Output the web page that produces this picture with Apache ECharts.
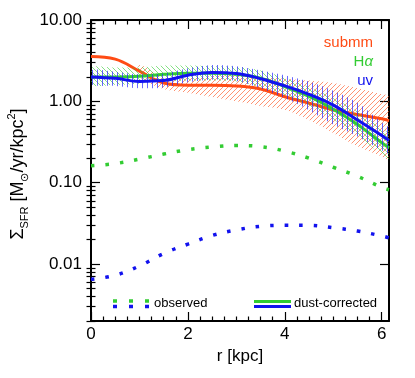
<!DOCTYPE html>
<html>
<head>
<meta charset="utf-8">
<title>SFR surface density profile</title>
<script src="https://cdn.jsdelivr.net/npm/echarts@6/dist/echarts.min.js"></script>
</head>
<body style="margin:0;padding:0;background:#fff;">
<div id="main" style="margin:0;padding:0;width:415px;height:378px;"></div>
<script type="text/javascript">
// radius grid [kpc]
var radius = [0, 0.5, 1, 1.5, 2, 2.5, 3, 3.5, 4, 4.5, 5, 5.5, 6, 6.15];

// dust-corrected profiles
var submm  = [3.55, 3.3, 2.35, 1.68, 1.58, 1.58, 1.55, 1.42, 1.14, 0.95, 0.79, 0.69, 0.61, 0.58];
var halpha = [2.0, 2.0, 2.03, 2.15, 2.22, 2.22, 2.15, 1.92, 1.52, 1.15, 0.8, 0.52, 0.31, 0.27];
var uv     = [2.0, 1.92, 1.76, 1.8, 2.1, 2.27, 2.2, 1.9, 1.55, 1.22, 0.9, 0.59, 0.38, 0.33];

// uncertainty bands (lower / upper)
var submmLo  = [null, null, 2.0, 1.42, 1.28, 1.13, 1.0, 0.88, 0.79, 0.59, 0.41, 0.28, 0.21, 0.19];
var submmHi  = [null, null, 2.8, 2.0, 1.95, 2.05, 2.1, 2.0, 1.9, 1.8, 1.68, 1.45, 1.22, 1.15];
var halphaLo = [1.6, 1.6, 1.65, 1.75, 1.8, 1.8, 1.75, 1.5, 1.2, 0.88, 0.6, 0.38, 0.22, 0.19];
var halphaHi = [2.6, 2.6, 2.6, 2.75, 2.75, 2.7, 2.65, 2.4, 1.95, 1.5, 1.1, 0.75, 0.46, 0.4];
var uvLo     = [1.62, 1.55, 1.45, 1.48, 1.72, 1.85, 1.78, 1.45, 1.1, 0.78, 0.52, 0.37, 0.25, 0.23];
var uvHi     = [2.4, 2.3, 2.15, 2.2, 2.55, 2.8, 2.7, 2.4, 2.1, 1.75, 1.35, 0.96, 0.55, 0.47];

// observed profiles
var halphaObs = [0.162, 0.172, 0.195, 0.225, 0.255, 0.275, 0.287, 0.278, 0.245, 0.2, 0.155, 0.12, 0.088, 0.082];
var uvObs     = [0.0065, 0.0073, 0.0095, 0.0135, 0.0176, 0.0225, 0.0263, 0.0292, 0.030, 0.030, 0.028, 0.0255, 0.0222, 0.021];

// ticks
var xMajor = [0, 2, 4, 6];
var yMajor = [0.01, 0.1, 1, 10];

var xMinor = [];
for (var t = 0.25; t < 6.15; t += 0.25) if (Math.abs(t / 2 - Math.round(t / 2)) > 1e-6) xMinor.push(+t.toFixed(2));
var yMinor = [];
[0.001, 0.01, 0.1, 1].forEach(function (d) {
    for (var k = 2; k <= 9; k++) yMinor.push(+(d * k).toPrecision(3));
});

var ORANGE = '#ff4b14', GREEN = '#33cc33', BLUE = '#1212ee';
var FONT = '"Liberation Sans", Arial, Helvetica, sans-serif';

// hatch patterns
function hatch(color, kind, size) {
    var c = document.createElement('canvas');
    c.width = size; c.height = size;
    var g = c.getContext('2d');
    g.strokeStyle = color;
    g.lineWidth = 1;
    g.beginPath();
    if (kind === 'up') {
        g.moveTo(-1, size + 1); g.lineTo(size + 1, -1);
        g.moveTo(-1, 1); g.lineTo(1, -1);
        g.moveTo(size - 1, size + 1); g.lineTo(size + 1, size - 1);
    } else if (kind === 'down') {
        g.moveTo(-1, -1); g.lineTo(size + 1, size + 1);
        g.moveTo(size - 1, -1); g.lineTo(size + 1, 1);
        g.moveTo(-1, size - 1); g.lineTo(1, size + 1);
    } else {
        var x = Math.floor(size / 2) + 0.5;
        g.moveTo(x, 0); g.lineTo(x, size);
    }
    g.stroke();
    return c;
}

function band(lo, hi, pattern, z) {
    var rows = [];
    for (var i = 0; i < radius.length; i++) {
        if (lo[i] != null) rows.push([radius[i], lo[i], hi[i]]);
    }
    return {
        type: 'custom', silent: true, z: z, clip: true,
        data: rows,
        encode: {x: 0, y: [1, 2]},
        renderItem: function (params, api) {
            if (params.dataIndex !== 0) return null;
            var top = [], bot = [];
            for (var j = 0; j < rows.length; j++) {
                top.push(api.coord([rows[j][0], rows[j][2]]));
                bot.unshift(api.coord([rows[j][0], rows[j][1]]));
            }
            return {
                type: 'polygon',
                shape: {points: top.concat(bot), smooth: 0.3},
                style: {fill: {image: pattern, repeat: 'repeat'}, stroke: null}
            };
        }
    };
}

function pairs(vals) {
    return radius.map(function (r, i) { return [r, vals[i]]; });
}

function curve(vals, color, z, dotted) {
    return {
        type: 'line', data: pairs(vals), z: z, showSymbol: false, smooth: 0.4, silent: true,
        lineStyle: dotted ? {color: color, width: 3.5, type: [3.5, 11], cap: 'butt'}
                          : {color: color, width: 3}
    };
}

var axisLine = {show: true, onZero: false, lineStyle: {color: '#000', width: 2}};

function xAxes() {
    var out = [];
    ['bottom', 'top'].forEach(function (pos) {
        out.push({
            type: 'value', position: pos, min: 0, max: 6.15,
            axisLine: axisLine,
            axisTick: {inside: true, length: 9, customValues: xMajor, lineStyle: {color: '#000', width: 1.2}},
            axisLabel: {show: pos === 'bottom', customValues: xMajor, color: '#000', fontSize: 17, fontFamily: FONT, margin: 5},
            splitLine: {show: false},
            name: pos === 'bottom' ? 'r [kpc]' : '',
            nameLocation: 'middle', nameGap: 20,
            nameTextStyle: {color: '#000', fontSize: 17, fontFamily: FONT}
        });
        out.push({
            type: 'value', position: pos, min: 0, max: 6.15,
            axisLine: {show: false},
            axisTick: {inside: true, length: 4.5, customValues: xMinor, lineStyle: {color: '#000', width: 1.2}},
            axisLabel: {show: false},
            splitLine: {show: false}
        });
    });
    return out;
}

function yAxes() {
    var out = [];
    ['left', 'right'].forEach(function (pos) {
        out.push({
            type: 'log', logBase: 10, position: pos, min: 0.002, max: 10,
            axisLine: axisLine,
            axisTick: {inside: true, length: 9, customValues: yMajor, lineStyle: {color: '#000', width: 1.2}},
            axisLabel: {
                show: pos === 'left', customValues: yMajor, color: '#000', fontSize: 17, fontFamily: FONT, margin: 9,
                formatter: function (v) { return (+v).toFixed(2); }
            },
            splitLine: {show: false}
        });
        out.push({
            type: 'log', logBase: 10, position: pos, min: 0.002, max: 10,
            axisLine: {show: false},
            axisTick: {inside: true, length: 4.5, customValues: yMinor, lineStyle: {color: '#000', width: 1.2}},
            axisLabel: {show: false},
            splitLine: {show: false}
        });
    });
    return out;
}

var myChart = echarts.init(document.getElementById('main'));

var option = {
    animation: false,
    backgroundColor: '#fff',
    grid: {left: 91, right: 26, top: 20, bottom: 57},
    xAxis: xAxes(),
    yAxis: yAxes(),
    series: [
        band(submmLo, submmHi, hatch('rgba(255,75,20,0.6)', 'up', 5), 1),
        curve(submm, ORANGE, 2),
        band(halphaLo, halphaHi, hatch('rgba(51,204,51,0.6)', 'down', 5), 3),
        curve(halpha, GREEN, 4),
        band(uvLo, uvHi, hatch('rgba(40,40,255,0.7)', 'vert', 5), 5),
        curve(uv, BLUE, 6),
        curve(halphaObs, GREEN, 2, true),
        curve(uvObs, BLUE, 2, true)
    ],
    graphic: [
        {type: 'text', x: 18, y: 174, rotation: Math.PI / 2, style: {
            text: '{n|Σ}{s|SFR}{n| [M}{s|⊙}{n|/yr/kpc}{p|2}{n|]}',
            align: 'center', verticalAlign: 'middle', fill: '#000',
            rich: {
                n: {fontSize: 18, lineHeight: 24, fontFamily: FONT, fill: '#000'},
                s: {fontSize: 11, lineHeight: 11, verticalAlign: 'bottom', fontFamily: FONT, fill: '#000'},
                p: {fontSize: 11, lineHeight: 11, verticalAlign: 'top', fontFamily: FONT, fill: '#000'}
            }
        }},
        {type: 'text', x: 373, y: 43, style: {text: 'submm', align: 'right', verticalAlign: 'middle', fill: ORANGE, fontSize: 15, fontFamily: FONT}},
        {type: 'text', x: 373, y: 61.5, style: {
            text: '{a|H}{b|α}', align: 'right', verticalAlign: 'middle',
            rich: {a: {fill: GREEN, fontSize: 15, fontFamily: FONT}, b: {fill: GREEN, fontSize: 15, fontStyle: 'italic', fontFamily: FONT}}
        }},
        {type: 'text', x: 373, y: 80.5, style: {text: 'uv', align: 'right', verticalAlign: 'middle', fill: BLUE, fontSize: 15, fontFamily: FONT}},
        // legend
        {type: 'line', shape: {x1: 113, y1: 301, x2: 150, y2: 301}, style: {stroke: GREEN, lineWidth: 3.5, lineDash: [4, 12]}},
        {type: 'line', shape: {x1: 113, y1: 306.5, x2: 150, y2: 306.5}, style: {stroke: BLUE, lineWidth: 3.5, lineDash: [4, 12]}},
        {type: 'text', x: 154, y: 303, style: {text: 'observed', verticalAlign: 'middle', fill: '#000', fontSize: 13, fontFamily: FONT}},
        {type: 'line', shape: {x1: 254, y1: 301.5, x2: 291, y2: 301.5}, style: {stroke: GREEN, lineWidth: 3}},
        {type: 'line', shape: {x1: 254, y1: 306.5, x2: 291, y2: 306.5}, style: {stroke: BLUE, lineWidth: 3}},
        {type: 'text', x: 294, y: 303, style: {text: 'dust-corrected', verticalAlign: 'middle', fill: '#000', fontSize: 13, fontFamily: FONT}}
    ]
};

myChart.setOption(option);
</script>
</body>
</html>
